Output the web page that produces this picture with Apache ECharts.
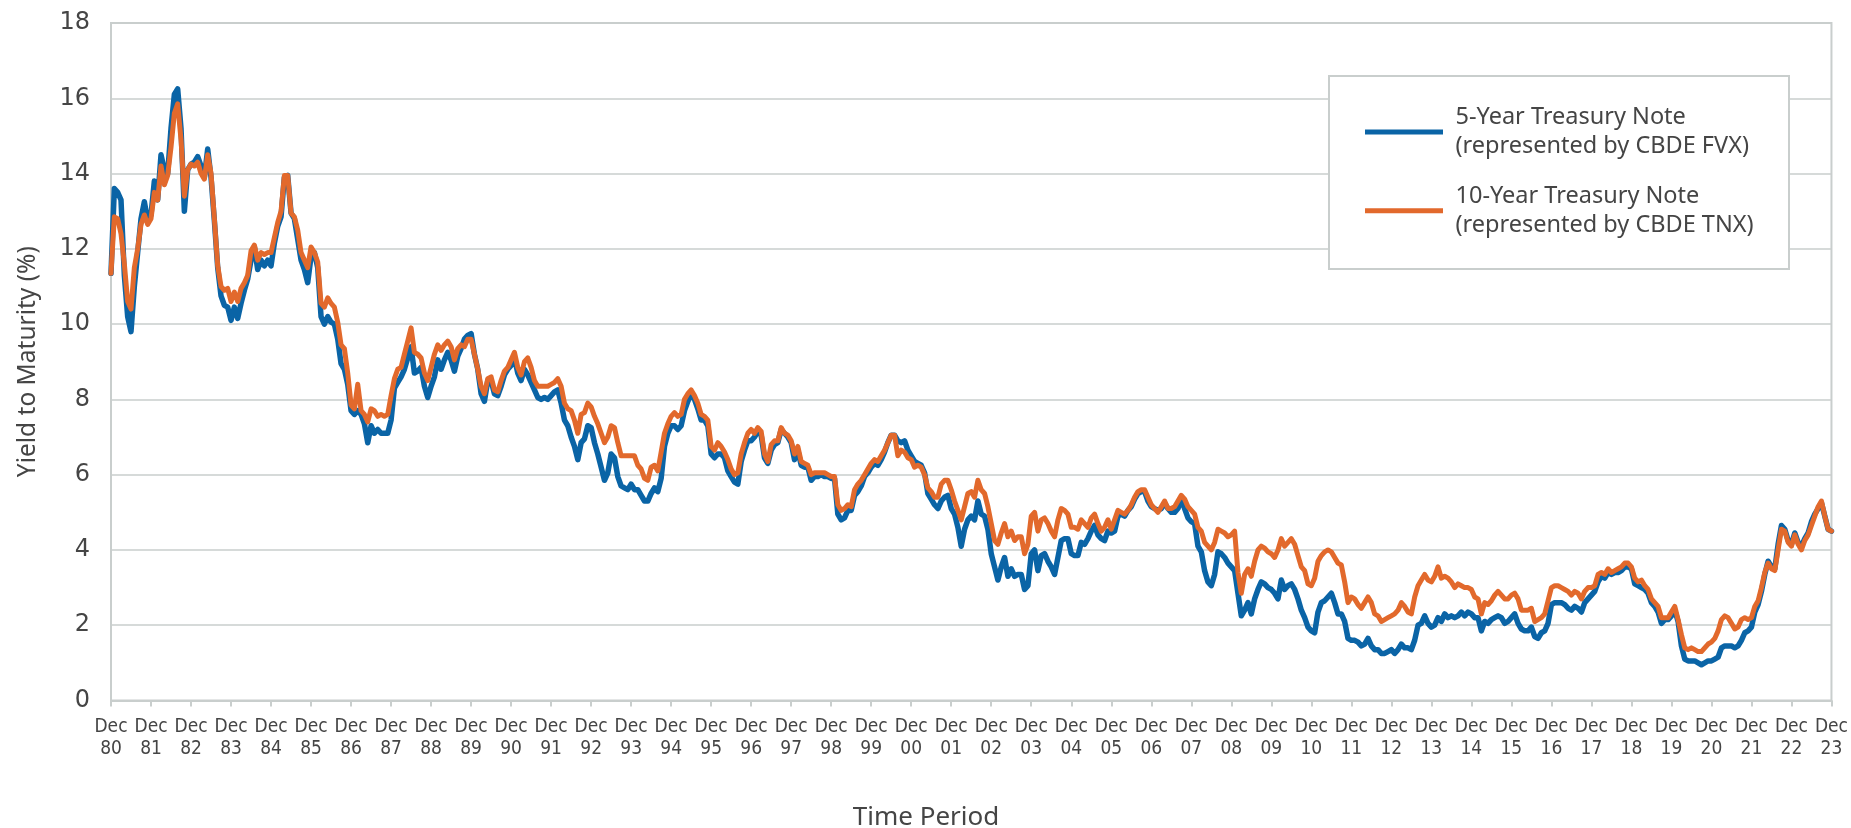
<!DOCTYPE html>
<html>
<head>
<meta charset="utf-8">
<script src="https://cdn.jsdelivr.net/npm/echarts@6/dist/echarts.min.js"></script>
<style>
html,body{margin:0;padding:0;background:#fff;}
#chart{width:1851px;height:828px;}
</style>
</head>
<body>
<div id="chart"></div>
<script>
// Tick label years (Dec of each year), first point is Dec 80, last is Dec 23
const tickYears = ['80','81','82','83','84','85','86','87','88','89','90','91','92','93','94','95','96','97','98','99','00','01','02','03','04','05','06','07','08','09','10','11','12','13','14','15','16','17','18','19','20','21','22','23'];
const monthNames = ['Jan','Feb','Mar','Apr','May','Jun','Jul','Aug','Sep','Oct','Nov','Dec'];

// 5-Year Treasury Note (CBDE FVX), monthly, Dec 80 .. Dec 23
const fiveYear = [
11.35,13.6,13.5,13.3,11.3,10.2,9.8,11.0,11.9,12.8,13.25,12.75,
12.9,13.8,13.3,14.5,14.1,14.0,15.2,16.1,16.25,15.2,13.0,14.1,
14.25,14.3,14.45,14.2,13.9,14.65,13.9,12.75,11.5,10.75,10.5,10.45,
10.1,10.45,10.15,10.55,10.9,11.2,11.7,12.05,11.45,11.7,11.55,11.7,
11.55,12.15,12.6,12.85,13.9,13.95,12.95,12.8,12.25,11.7,11.45,11.1,
11.8,11.9,11.5,10.2,10.0,10.2,10.05,10.0,9.6,8.95,8.8,8.4,
7.7,7.6,7.7,7.6,7.35,6.85,7.3,7.1,7.2,7.1,7.1,7.1,
7.45,8.3,8.45,8.6,8.8,9.1,9.4,8.7,8.75,8.85,8.35,8.05,
8.35,8.6,9.05,8.8,9.05,9.25,9.05,8.75,9.15,9.35,9.6,9.7,
9.75,9.2,8.8,8.15,7.95,8.5,8.5,8.15,8.1,8.35,8.65,8.8,
8.9,9.1,8.7,8.5,8.8,8.65,8.45,8.25,8.05,8.0,8.05,8.0,
8.1,8.2,8.25,7.9,7.45,7.3,7.0,6.75,6.4,6.85,6.95,7.3,
7.25,6.85,6.55,6.2,5.85,6.05,6.55,6.45,5.95,5.7,5.65,5.6,
5.75,5.6,5.6,5.45,5.3,5.3,5.5,5.65,5.55,5.9,6.75,7.1,
7.3,7.3,7.2,7.3,7.7,7.95,8.15,8.0,7.75,7.45,7.45,7.3,
6.55,6.45,6.55,6.55,6.45,6.1,5.95,5.8,5.75,6.35,6.65,6.9,
6.9,7.0,7.15,7.05,6.45,6.3,6.65,6.8,6.85,7.2,7.1,7.0,
6.85,6.4,6.65,6.25,6.2,6.2,5.85,5.95,5.95,6.0,5.95,5.95,
5.9,5.9,4.95,4.8,4.85,5.05,5.05,5.45,5.55,5.7,5.95,6.05,
6.2,6.3,6.25,6.4,6.6,6.85,7.05,7.05,6.9,6.85,6.9,6.65,
6.5,6.35,6.3,6.25,6.05,5.5,5.35,5.2,5.1,5.3,5.4,5.45,
5.1,4.95,4.6,4.1,4.55,4.8,4.9,4.8,5.3,4.95,4.9,4.55,
3.9,3.55,3.2,3.55,3.8,3.3,3.5,3.3,3.35,3.35,2.95,3.05,
3.9,4.0,3.45,3.85,3.9,3.7,3.55,3.35,3.8,4.25,4.3,4.3,
3.9,3.85,3.85,4.2,4.15,4.3,4.5,4.65,4.4,4.3,4.25,4.5,
4.45,4.5,4.9,4.95,4.9,5.05,5.15,5.35,5.5,5.55,5.55,5.3,
5.15,5.1,5.05,5.1,5.25,5.1,5.0,5.0,5.1,5.35,5.1,4.85,
4.75,4.7,4.1,3.95,3.45,3.15,3.05,3.35,3.95,3.9,3.8,3.65,
3.55,3.45,2.85,2.25,2.4,2.6,2.3,2.7,2.95,3.15,3.1,3.0,
2.95,2.85,2.7,3.2,2.95,3.05,3.1,2.95,2.7,2.4,2.2,1.95,
1.85,1.8,2.35,2.6,2.65,2.75,2.85,2.6,2.3,2.3,2.1,1.65,
1.6,1.6,1.55,1.45,1.5,1.65,1.45,1.35,1.35,1.25,1.25,1.3,
1.35,1.25,1.35,1.5,1.4,1.4,1.35,1.6,2.0,2.05,2.25,2.05,
1.95,2.0,2.2,2.1,2.3,2.2,2.25,2.2,2.25,2.35,2.25,2.35,
2.3,2.2,2.2,1.85,2.1,2.05,2.15,2.2,2.25,2.2,2.05,2.1,
2.2,2.3,2.05,1.9,1.85,1.85,1.95,1.7,1.65,1.8,1.85,2.05,
2.55,2.6,2.6,2.6,2.55,2.45,2.4,2.5,2.45,2.35,2.6,2.7,
2.8,2.9,3.15,3.3,3.25,3.4,3.35,3.4,3.4,3.45,3.55,3.55,
3.5,3.1,3.05,3.0,2.95,2.85,2.6,2.5,2.35,2.05,2.15,2.15,
2.25,2.4,2.1,1.45,1.1,1.05,1.05,1.05,1.0,0.95,1.0,1.05,
1.05,1.1,1.15,1.4,1.45,1.45,1.45,1.4,1.45,1.6,1.8,1.85,
1.95,2.35,2.55,2.9,3.35,3.7,3.55,3.5,4.15,4.65,4.55,4.25,
4.15,4.45,4.2,4.1,4.3,4.45,4.75,4.95,5.1,5.25,4.9,4.55,
4.5
];

// 10-Year Treasury Note (CBDE TNX), monthly, Dec 80 .. Dec 23
const tenYear = [
11.35,12.85,12.8,12.4,11.6,10.6,10.4,11.5,12.0,12.65,12.9,12.65,
12.8,13.5,13.3,14.2,13.7,13.95,14.7,15.6,15.85,14.9,13.4,14.1,
14.25,14.2,14.3,14.0,13.85,14.5,14.0,12.8,11.55,11.0,10.9,10.95,
10.6,10.85,10.6,10.95,11.1,11.3,11.95,12.1,11.7,11.9,11.85,11.9,
11.9,12.3,12.7,13.0,13.95,13.95,12.95,12.85,12.5,11.9,11.7,11.5,
12.05,11.9,11.65,10.55,10.45,10.7,10.55,10.45,10.05,9.45,9.35,8.7,
7.85,7.75,8.4,7.7,7.6,7.4,7.75,7.7,7.55,7.6,7.55,7.6,
8.1,8.55,8.8,8.85,9.2,9.55,9.9,9.25,9.2,9.1,8.7,8.5,
8.85,9.2,9.45,9.3,9.45,9.55,9.4,9.05,9.35,9.45,9.4,9.6,
9.6,9.2,8.8,8.35,8.15,8.55,8.6,8.25,8.2,8.5,8.75,8.85,
9.05,9.25,8.85,8.65,9.0,9.1,8.85,8.5,8.35,8.35,8.35,8.35,
8.4,8.45,8.55,8.35,7.9,7.75,7.7,7.45,7.1,7.6,7.65,7.9,
7.8,7.55,7.35,7.1,6.85,7.0,7.3,7.25,6.85,6.5,6.5,6.5,
6.5,6.5,6.25,6.15,5.9,5.85,6.2,6.25,6.1,6.6,7.1,7.35,
7.55,7.65,7.55,7.6,8.0,8.15,8.25,8.1,7.9,7.6,7.55,7.45,
6.75,6.65,6.85,6.75,6.6,6.4,6.15,6.0,6.05,6.55,6.85,7.1,
7.2,7.1,7.25,7.15,6.55,6.35,6.8,6.9,6.9,7.25,7.1,7.05,
6.9,6.55,6.75,6.35,6.3,6.25,6.0,6.05,6.05,6.05,6.05,6.0,
5.95,5.95,5.2,5.05,5.1,5.2,5.15,5.6,5.75,5.85,6.0,6.15,
6.3,6.4,6.35,6.5,6.65,6.85,7.05,7.05,6.5,6.65,6.6,6.45,
6.4,6.2,6.25,6.2,6.0,5.65,5.55,5.4,5.4,5.75,5.85,5.85,
5.6,5.3,5.05,4.8,5.15,5.5,5.55,5.4,5.85,5.6,5.5,5.15,
4.7,4.25,4.15,4.45,4.7,4.35,4.5,4.25,4.35,4.35,3.9,4.15,
4.9,5.0,4.5,4.8,4.85,4.7,4.5,4.35,4.8,5.1,5.05,4.95,
4.6,4.6,4.55,4.8,4.7,4.6,4.85,4.95,4.7,4.5,4.6,4.8,
4.55,4.8,5.05,5.0,4.95,5.05,5.2,5.4,5.55,5.6,5.6,5.4,
5.2,5.1,5.0,5.15,5.3,5.1,5.1,5.15,5.3,5.45,5.35,5.15,
5.05,4.95,4.6,4.5,4.2,4.1,4.0,4.2,4.55,4.5,4.45,4.35,
4.4,4.5,3.4,2.85,3.35,3.5,3.3,3.7,4.0,4.1,4.05,3.95,
3.9,3.8,4.0,4.3,4.1,4.2,4.3,4.15,3.85,3.55,3.45,3.1,
3.05,3.25,3.7,3.85,3.95,4.0,3.95,3.8,3.65,3.6,3.15,2.6,
2.75,2.7,2.55,2.45,2.6,2.75,2.6,2.3,2.25,2.1,2.15,2.2,
2.25,2.3,2.4,2.6,2.5,2.35,2.3,2.75,3.05,3.2,3.35,3.2,
3.15,3.3,3.55,3.25,3.3,3.25,3.15,3.0,3.1,3.05,3.0,3.0,
2.95,2.75,2.7,2.3,2.6,2.55,2.65,2.8,2.9,2.8,2.7,2.7,
2.8,2.85,2.7,2.4,2.4,2.4,2.45,2.1,2.15,2.2,2.3,2.65,
3.0,3.05,3.05,3.0,2.95,2.9,2.8,2.9,2.85,2.7,2.9,3.0,
3.0,3.05,3.35,3.4,3.35,3.5,3.4,3.45,3.5,3.55,3.65,3.65,
3.55,3.25,3.15,3.2,3.05,2.95,2.7,2.6,2.5,2.2,2.2,2.2,
2.35,2.5,2.15,1.75,1.4,1.35,1.4,1.35,1.3,1.3,1.4,1.5,
1.55,1.65,1.85,2.15,2.25,2.2,2.05,1.9,1.95,2.15,2.2,2.15,
2.2,2.5,2.65,3.0,3.4,3.65,3.5,3.45,4.0,4.55,4.5,4.2,
4.1,4.4,4.15,4.0,4.25,4.4,4.65,4.9,5.15,5.3,4.9,4.55,
4.5
];

const seriesNames = ['5-Year Treasury Note', '10-Year Treasury Note'];
const seriesSubtitles = ['(represented by CBDE FVX)', '(represented by CBDE TNX)'];

// monthly categories starting Dec 1980
const categories = fiveYear.map(function (v, i) {
  const k = 11 + i;
  const m = k % 12;
  const yIdx = Math.floor(k / 12);
  const yy = String((1980 + yIdx) % 100).padStart(2, '0');
  return monthNames[m] + ' ' + yy;
});

const chart = echarts.init(document.getElementById('chart'), null, {renderer: 'canvas'});
const textColor = '#454545';
const axisGray = '#c9cecd';

chart.setOption({
  animation: false,
  backgroundColor: '#ffffff',
  grid: {
    left: 111, right: 14, top: 23, bottom: 127.5,
    show: true, borderColor: axisGray, borderWidth: 2, backgroundColor: 'transparent'
  },
  title: {
    text: 'Time Period',
    left: 921, top: 800, textAlign: 'center',
    textStyle: {fontFamily: 'Noto Sans', fontSize: 26, fontWeight: 'normal', color: textColor}
  },
  legend: {
    orient: 'vertical',
    left: 1365, top: 103,
    padding: 0,
    itemWidth: 78, itemHeight: 5, itemGap: 20.7,
    icon: 'rect',
    data: seriesNames,
    formatter: function (name) {
      const i = seriesNames.indexOf(name);
      return name + '\n' + seriesSubtitles[i];
    },
    textStyle: {fontFamily: 'Noto Sans', fontSize: 23.5, lineHeight: 29, color: textColor, padding: [0, 0, 0, 7.5]},
    z: 10
  },
  graphic: [{
    type: 'rect', z: 5, silent: true,
    shape: {x: 1329, y: 76, width: 460, height: 193},
    style: {fill: '#ffffff', stroke: axisGray, lineWidth: 2}
  }],
  xAxis: {
    type: 'category',
    data: categories,
    boundaryGap: false,
    axisLine: {show: true, lineStyle: {color: axisGray, width: 2}},
    axisTick: {show: true, interval: 11, length: 6, lineStyle: {color: axisGray, width: 2}},
    axisLabel: {
      interval: 11,
      margin: 16,
      fontFamily: "'Liberation Sans Narrow', 'DejaVu Sans Condensed', 'Roboto', sans-serif",
      fontSize: 19, lineHeight: 22, color: textColor,
      formatter: function (v) { const p = v.split(' '); return p[0] + '\n' + p[1]; }
    },
    splitLine: {show: false}
  },
  yAxis: {
    type: 'value',
    min: 0, max: 18, interval: 2,
    name: 'Yield to Maturity (%)',
    nameLocation: 'middle',
    nameGap: 70,
    nameTextStyle: {fontFamily: 'Noto Sans', fontSize: 24.5, color: textColor},
    axisLine: {show: true, lineStyle: {color: axisGray, width: 2}},
    axisTick: {show: false},
    axisLabel: {margin: 21, fontFamily: 'DejaVu Sans', fontSize: 24, color: textColor},
    splitLine: {show: true, lineStyle: {color: axisGray, width: 1.5}}
  },
  series: [
    {
      name: seriesNames[0], type: 'line', data: fiveYear,
      showSymbol: false, symbol: 'none', smooth: false,
      lineStyle: {color: '#0a64a6', width: 5.5, join: 'round', cap: 'round'},
      itemStyle: {color: '#0a64a6'}, z: 2
    },
    {
      name: seriesNames[1], type: 'line', data: tenYear,
      showSymbol: false, symbol: 'none', smooth: false,
      lineStyle: {color: '#e2692c', width: 5, join: 'round', cap: 'round'},
      itemStyle: {color: '#e2692c'}, z: 3
    }
  ]
});
</script>
</body>
</html>
